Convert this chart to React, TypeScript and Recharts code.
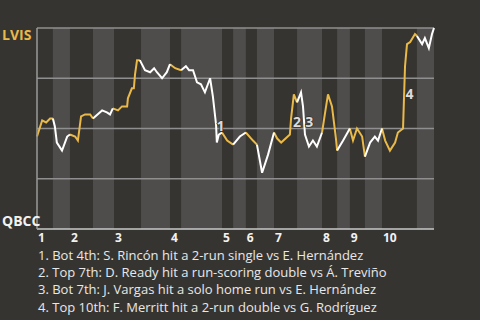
import { ComposedChart, Line, XAxis, YAxis, ReferenceArea, ReferenceLine, ReferenceDot } from 'recharts'

// game progress (0-100) and LVIS win probability (%) at each play
const gameT = [
  0, 1.3, 2.3, 3.3, 4.0, 4.5, 5.0, 6.3, 7.6, 8.3, 9.6, 10.3, 11.1, 12.1, 13.4, 14.1,
  16.4, 17.6, 18.4, 19.1, 20.4, 21.4, 22.7, 22.9, 23.9, 24.4, 24.7, 25.2, 25.9,
  27.2, 28.5, 29.5, 30.2, 31.5, 32.7, 33.5, 34.8, 36.3, 37.5, 38.3, 39.3, 40.3,
  41.3, 42.3, 43.6, 44.3, 45.1, 45.3, 45.8, 46.6, 47.9, 49.4, 51.1, 52.6, 54.4,
  55.4, 56.7, 58.2, 59.7, 60.5, 61.5, 63.7, 64.0, 64.7, 65.5, 66.5, 67.0, 67.5,
  68.5, 69.5, 70.5, 71.8, 72.5, 73.3, 74.3, 74.8, 75.3, 75.6, 77.1, 78.8, 79.6,
  80.6, 81.9, 82.6, 83.9, 85.1, 85.9, 86.9, 87.7, 88.9, 90.2, 90.9, 92.2, 92.7,
  93.2, 94.0, 95.2, 95.7, 97.0, 97.7, 98.7, 99.5, 100,
]
const lvisWin = [
  46, 54, 53, 55, 55, 51, 43, 39, 46, 47, 46, 44, 56, 57, 57, 55,
  59, 58, 57, 60, 59, 61, 61, 65, 70, 70, 77, 84, 84,
  79, 78, 80, 78, 75, 78, 82, 80, 79, 81, 79, 79, 73,
  72, 68, 75, 66, 52, 43, 47, 48, 44, 42, 46, 48, 44,
  42, 28, 37, 48, 45, 43, 47, 55, 67, 63, 68, 61, 47,
  41, 44, 41, 48, 57, 67, 61, 53, 45, 39, 44, 50, 44,
  50, 46, 36, 43, 46, 44, 50, 44, 39, 43, 48, 50, 81,
  92, 93, 97, 96, 92, 95, 90, 97, 100,
]
// start of each half inning (top 1st, bot 1st, ...), plus the end
const halfStarts = [
  0, 4.0, 8.3, 14.1, 19.4, 26.2, 33.5, 36.3, 46.6, 49.4, 52.6, 55.4, 59.7, 65.5,
  71.8, 75.6, 78.8, 82.6, 86.9, 95.7, 100,
]
const inningLabels = ['1', '2', '3', '4', '5', '6', '7', '8', '9', '10']
const gridLevels = [25, 50, 75, 100]

const eventLabels = ['1', '2', '3', '4']
const eventT = [46.2, 65.5, 68.6, 93.8]
const eventWp = [51.2, 53.2, 53.2, 67.2]

const notes = [
  '1. Bot 4th: S. Rincón hit a 2-run single vs E. Hernández',
  '2. Top 7th: D. Ready hit a run-scoring double vs Á. Treviño',
  '3. Bot 7th: J. Vargas hit a solo home run vs E. Hernández',
  '4. Top 10th: F. Merritt hit a 2-run double vs G. Rodríguez',
]

const BG = '#363431'
const BAND = '#4f4d4b'
const YELLOW = '#e9b949'
const FONT = '"Open Sans", "Noto Sans", sans-serif'

function halfOf(t: number) {
  let h = 0
  for (let i = 0; i < halfStarts.length - 1; i++) if (t >= halfStarts[i]) h = i
  return h
}

// a segment is "top" (LVIS batting) when its midpoint falls in a top half
const segTop = gameT.slice(1).map((t, i) => halfOf((t + gameT[i]) / 2) % 2 === 0)

const data = gameT.map((t, i) => {
  const adj = [segTop[i - 1], segTop[i]].filter(v => v !== undefined)
  const inTop = adj.some(v => v)
  const inBot = adj.some(v => !v)
  return { t, top: inTop ? lvisWin[i] : null, bot: inBot ? lvisWin[i] : null }
})

const topTicks = halfStarts.filter((_, i) => i % 2 === 0 && i < halfStarts.length - 1)

function InningTick({ x, y, index }: any) {
  return (
    <text x={x + 1} y={y + 5} fill="#f2f2f2" fontSize={12} fontWeight={700} fontFamily={FONT}>
      {inningLabels[index]}
    </text>
  )
}

function TeamTick({ y, payload }: any) {
  const isTop = payload.value === 100
  return (
    <text
      x={2}
      y={isTop ? y + 12 : y - 3}
      fill={isTop ? YELLOW : '#f2f2f2'}
      fontSize={14}
      fontWeight={700}
      fontFamily={FONT}
    >
      {isTop ? 'LVIS' : 'QBCC'}
    </text>
  )
}

export default function App() {
  return (
    <div style={{ position: 'relative', width: 480, height: 320, background: BG, overflow: 'hidden' }}>
      <style>{'body{margin:0}'}</style>
      <ComposedChart width={480} height={252} data={data} margin={{ top: 28, right: 46, left: 0, bottom: 0 }}>
        <XAxis
          dataKey="t"
          type="number"
          domain={[0, 100]}
          ticks={topTicks}
          interval={0}
          tick={<InningTick />}
          tickLine={false}
          height={23}
          axisLine={{ stroke: '#c8c8c8', strokeWidth: 1.5 }}
        />
        <YAxis
          type="number"
          domain={[0, 100]}
          ticks={[0, 100]}
          width={37}
          tick={<TeamTick />}
          tickLine={false}
          axisLine={{ stroke: '#9a9a9a', strokeWidth: 1.5 }}
        />
        {halfStarts.slice(0, -1).map((s, i) =>
          i % 2 === 1 ? (
            <ReferenceArea key={i} x1={s} x2={halfStarts[i + 1]} y1={0} y2={100} fill={BAND} fillOpacity={1} stroke="none" />
          ) : null,
        )}
        {gridLevels.map(v => (
          <ReferenceLine key={v} y={v} stroke="#8f8f8f" strokeWidth={1.5} />
        ))}
        <Line dataKey="top" stroke={YELLOW} strokeWidth={2} dot={false} isAnimationActive={false} />
        <Line dataKey="bot" stroke="#ffffff" strokeWidth={2} dot={false} isAnimationActive={false} />
        {eventLabels.map((lab, i) => (
          <ReferenceDot
            key={lab}
            x={eventT[i]}
            y={eventWp[i]}
            r={0}
            shape={(p: any) => (
              <text
                x={p.cx}
                y={p.cy + 5}
                textAnchor="middle"
                fill="#dcdcdc"
                stroke={BG}
                strokeWidth={1.5}
                paintOrder="stroke"
                fontSize={14}
                fontWeight={700}
                fontFamily={FONT}
              >
                {lab}
              </text>
            )}
          />
        ))}
      </ComposedChart>
      <div
        style={{
          position: 'absolute',
          left: 38,
          top: 247,
          fontFamily: FONT,
          fontSize: 13,
          lineHeight: '17.2px',
          color: '#e8e8e8',
          whiteSpace: 'nowrap',
        }}
      >
        {notes.map(n => (
          <div key={n}>{n}</div>
        ))}
      </div>
    </div>
  )
}
